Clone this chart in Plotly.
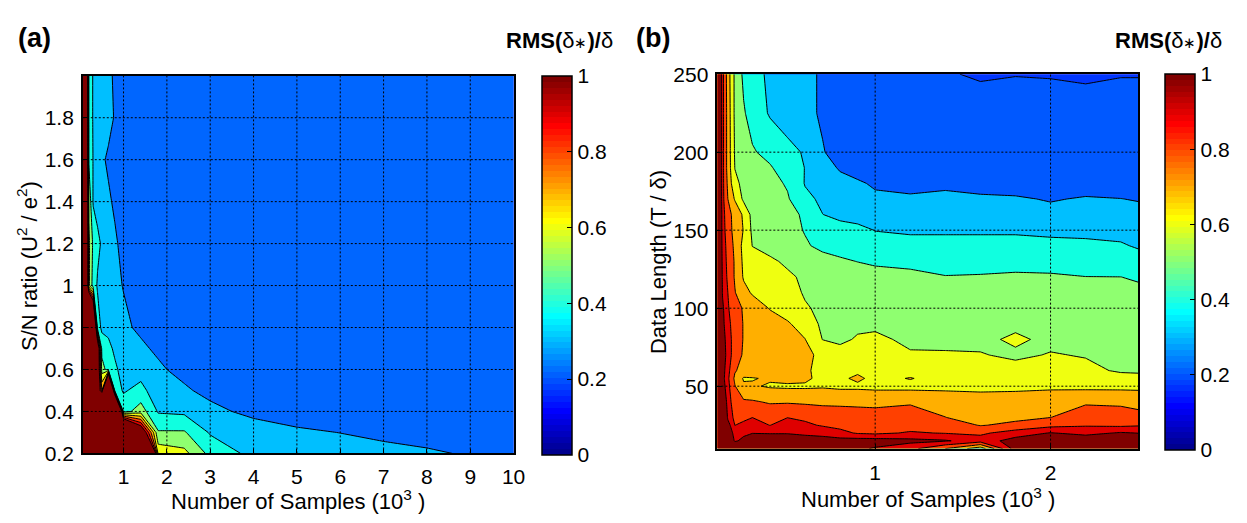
import plotly.graph_objects as go

W, H = 1247, 523
FONT = "Liberation Sans, Arial, sans-serif"

# ---------------- panel (a): RMS error over S/N ratio and sample count ----------------
samples_a = [0.06, 0.15, 0.2, 0.3, 0.4, 0.5, 0.65, 0.8, 1.0, 1.4, 1.8, 2.4, 3.0, 4.0, 5, 6, 7, 8, 9, 10]
snr_a = [0.2, 0.3, 0.4, 0.5, 0.6, 0.7, 0.8, 1.0, 1.2, 1.4, 1.6, 1.8, 2.0]
rms_a = [
    [3, 3, 3, 3, 3, 3, 3, 3, 3, 3, 0.67, 0.63, 0.47, 0.37, 0.345, 0.33, 0.32, 0.307, 0.295, 0.285],
    [3, 3, 3, 3, 3, 3, 3, 3, 2.0, 1.21, 0.51, 0.51, 0.39, 0.34, 0.31, 0.299, 0.285, 0.28, 0.27, 0.265],
    [3, 3, 3, 3, 3, 3, 3, 3, 0.46, 0.55, 0.39, 0.38, 0.32, 0.28, 0.27, 0.26, 0.25, 0.25, 0.25, 0.25],
    [3, 3, 3, 3, 1.3, 0.8, 3, 0.45, 0.39, 0.43, 0.34, 0.31, 0.28, 0.26, 0.25, 0.25, 0.25, 0.25, 0.25, 0.25],
    [3, 3, 3, 3, 1.3, 0.55, 0.45, 0.42, 0.36, 0.36, 0.31, 0.28, 0.27, 0.26, 0.25, 0.25, 0.25, 0.25, 0.25, 0.25],
    [3, 3, 3, 3, 1.3, 0.46, 0.43, 0.38, 0.33, 0.31, 0.29, 0.27, 0.26, 0.25, 0.25, 0.25, 0.25, 0.25, 0.25, 0.25],
    [3, 3, 3, 2.0, 0.45, 0.38, 0.37, 0.34, 0.31, 0.29, 0.27, 0.26, 0.25, 0.25, 0.25, 0.25, 0.25, 0.25, 0.25, 0.25],
    [3, 1.5, 0.62, 0.45, 0.39, 0.36, 0.33, 0.31, 0.298, 0.28, 0.27, 0.26, 0.25, 0.25, 0.25, 0.25, 0.25, 0.25, 0.25, 0.25],
    [3, 1.5, 0.62, 0.48, 0.42, 0.39, 0.34, 0.31, 0.28, 0.27, 0.26, 0.25, 0.25, 0.25, 0.25, 0.25, 0.25, 0.25, 0.25, 0.25],
    [3, 1.5, 0.58, 0.39, 0.37, 0.34, 0.31, 0.29, 0.27, 0.26, 0.25, 0.25, 0.25, 0.25, 0.25, 0.25, 0.25, 0.25, 0.25, 0.25],
    [3, 1.5, 0.49, 0.395, 0.34, 0.31, 0.29, 0.28, 0.27, 0.26, 0.25, 0.25, 0.25, 0.25, 0.25, 0.25, 0.25, 0.25, 0.25, 0.25],
    [3, 1.5, 0.48, 0.39, 0.36, 0.34, 0.32, 0.295, 0.27, 0.26, 0.25, 0.25, 0.25, 0.25, 0.25, 0.25, 0.25, 0.25, 0.25, 0.25],
    [3, 1.5, 0.48, 0.39, 0.36, 0.34, 0.315, 0.29, 0.27, 0.26, 0.25, 0.25, 0.25, 0.25, 0.25, 0.25, 0.25, 0.25, 0.25, 0.25],
]
xticks_a = [1, 2, 3, 4, 5, 6, 7, 8, 9, 10]
yticks_a = [0.2, 0.4, 0.6, 0.8, 1.0, 1.2, 1.4, 1.6, 1.8]
ylabels_a = ["0.2", "0.4", "0.6", "0.8", "1", "1.2", "1.4", "1.6", "1.8"]

# ---------------- panel (b): RMS error over data length and sample count ----------------
samples_b = [0.1, 0.13, 0.16, 0.2, 0.25, 0.3, 0.4, 0.5, 0.6, 0.7, 0.8, 0.9, 1.0, 1.2, 1.4, 1.6, 1.8, 2.0, 2.2, 2.4, 2.5]
length_b = [10, 15, 20, 25, 30, 40, 50, 55, 60, 70, 80, 90, 100, 110, 120, 130, 140, 150, 160, 170, 180, 190, 200, 225, 250]
rms_b = [
    [1.6, 1.5, 1.4, 1.3, 1.3, 1.3, 1.3, 1.2, 1.15, 1.1, 1.05, 1.02, 0.99, 0.93, 0.8, 0.64, 1.05, 1.15, 1.15, 1.15, 1.15],
    [1.6, 1.45, 1.3, 0.97, 1.05, 1.1, 1.1, 1.1, 1.05, 1.04, 1.04, 1.05, 1.05, 1.03, 1.01, 0.95, 1.04, 1.1, 1.08, 1.06, 1.07],
    [1.6, 1.4, 1.15, 0.93, 0.96, 0.995, 0.99, 0.99, 0.98, 0.97, 0.93, 0.89, 0.88, 0.91, 0.895, 0.88, 0.95, 1.005, 0.97, 1.01, 0.998],
    [1.6, 1.3, 1.05, 0.899, 0.92, 0.95, 0.898, 0.95, 0.92, 0.89, 0.87, 0.86, 0.86, 0.86, 0.85, 0.795, 0.82, 0.87, 0.89, 0.88, 0.89],
    [1.6, 1.25, 0.98, 0.87, 0.88, 0.899, 0.87, 0.898, 0.88, 0.86, 0.85, 0.84, 0.84, 0.84, 0.801, 0.77, 0.78, 0.799, 0.86, 0.85, 0.83],
    [1.5, 1.15, 0.95, 0.84, 0.815, 0.81, 0.79, 0.79, 0.785, 0.78, 0.78, 0.78, 0.775, 0.79, 0.77, 0.75, 0.76, 0.78, 0.785, 0.78, 0.77],
    [1.4, 1.06, 0.93, 0.805, 0.715, 0.71, 0.69, 0.685, 0.685, 0.69, 0.68, 0.68, 0.675, 0.67, 0.67, 0.67, 0.67, 0.675, 0.675, 0.675, 0.675],
    [1.4, 1.04, 0.92, 0.78, 0.69, 0.695, 0.71, 0.73, 0.72, 0.67, 0.68, 0.72, 0.67, 0.705, 0.66, 0.65, 0.645, 0.64, 0.64, 0.63, 0.63],
    [1.4, 1.05, 0.93, 0.81, 0.76, 0.75, 0.74, 0.73, 0.71, 0.68, 0.68, 0.68, 0.67, 0.66, 0.65, 0.64, 0.63, 0.63, 0.62, 0.59, 0.585],
    [1.4, 1.06, 0.96, 0.84, 0.79, 0.78, 0.78, 0.75, 0.72, 0.68, 0.64, 0.64, 0.63, 0.61, 0.61, 0.605, 0.585, 0.605, 0.595, 0.58, 0.57],
    [1.4, 1.05, 0.95, 0.85, 0.795, 0.79, 0.76, 0.73, 0.702, 0.598, 0.58, 0.61, 0.62, 0.58, 0.575, 0.58, 0.615, 0.58, 0.57, 0.565, 0.56],
    [1.4, 1.03, 0.93, 0.85, 0.795, 0.77, 0.74, 0.71, 0.66, 0.58, 0.57, 0.58, 0.58, 0.575, 0.57, 0.57, 0.58, 0.575, 0.57, 0.565, 0.56],
    [1.4, 1.02, 0.91, 0.84, 0.79, 0.75, 0.695, 0.66, 0.61, 0.58, 0.58, 0.59, 0.57, 0.565, 0.56, 0.56, 0.56, 0.56, 0.555, 0.55, 0.545],
    [1.3, 0.99, 0.9, 0.805, 0.73, 0.69, 0.67, 0.64, 0.59, 0.58, 0.57, 0.57, 0.56, 0.55, 0.54, 0.54, 0.54, 0.54, 0.53, 0.53, 0.52],
    [1.3, 0.98, 0.88, 0.79, 0.69, 0.66, 0.64, 0.62, 0.58, 0.57, 0.56, 0.55, 0.547, 0.53, 0.504, 0.51, 0.526, 0.519, 0.502, 0.5005, 0.49],
    [1.3, 0.97, 0.87, 0.79, 0.68, 0.64, 0.62, 0.58, 0.56, 0.53, 0.515, 0.498, 0.48, 0.47, 0.46, 0.45, 0.44, 0.44, 0.43, 0.43, 0.42],
    [1.3, 0.96, 0.86, 0.78, 0.67, 0.598, 0.56, 0.54, 0.51, 0.48, 0.46, 0.45, 0.43, 0.412, 0.412, 0.412, 0.412, 0.412, 0.4085, 0.405, 0.395],
    [1.3, 0.95, 0.84, 0.77, 0.695, 0.58, 0.55, 0.53, 0.495, 0.46, 0.43, 0.42, 0.398, 0.395, 0.395, 0.395, 0.395, 0.39, 0.39, 0.385, 0.375],
    [1.3, 0.95, 0.82, 0.78, 0.68, 0.57, 0.54, 0.52, 0.49, 0.401, 0.38, 0.37, 0.36, 0.35, 0.35, 0.345, 0.34, 0.32, 0.335, 0.33, 0.32],
    [1.3, 0.93, 0.8, 0.69, 0.58, 0.57, 0.54, 0.51, 0.42, 0.385, 0.36, 0.34, 0.314, 0.3095, 0.33, 0.313, 0.3075, 0.295, 0.3057, 0.301, 0.296],
    [1.3, 0.93, 0.78, 0.62, 0.58, 0.56, 0.53, 0.49, 0.395, 0.36, 0.33, 0.31, 0.29, 0.28, 0.275, 0.27, 0.27, 0.27, 0.27, 0.27, 0.27],
    [1.3, 0.93, 0.76, 0.598, 0.56, 0.54, 0.51, 0.45, 0.398, 0.34, 0.29, 0.27, 0.26, 0.25, 0.245, 0.24, 0.24, 0.24, 0.24, 0.24, 0.24],
    [1.3, 0.93, 0.76, 0.59, 0.54, 0.51, 0.47, 0.43, 0.39, 0.305, 0.27, 0.26, 0.25, 0.24, 0.235, 0.23, 0.23, 0.23, 0.23, 0.23, 0.23],
    [1.3, 0.93, 0.76, 0.58, 0.51, 0.46, 0.39, 0.35, 0.32, 0.29, 0.27, 0.26, 0.25, 0.24, 0.235, 0.23, 0.23, 0.23, 0.23, 0.23, 0.23],
    [1.3, 0.93, 0.75, 0.58, 0.48, 0.44, 0.38, 0.35, 0.32, 0.29, 0.27, 0.25, 0.24, 0.22, 0.205, 0.193, 0.198, 0.196, 0.19, 0.197, 0.197],
]
xticks_b = [1, 2]
yticks_b = [50, 100, 150, 200, 250]

# colour bar ticks
cbar_ticks = [0, 0.2, 0.4, 0.6, 0.8, 1.0]
cbar_labels = ["0", "0.2", "0.4", "0.6", "0.8", "1"]

# fill colour of each band: <0.1, [0.1,0.2), ..., [0.9,1.0), >=1.0
band_colors_a = ["#0000EF", "#0040FF", "#0066FF", "#00BFFF", "#10FFE0", "#8FFF70",
                 "#EFFF10", "#FFAF00", "#FF4000", "#DF0000", "#800000"]
band_colors_b = ["#0000EF", "#0036FF", "#0058FF", "#00BFFF", "#10FFE0", "#8FFF70",
                 "#EFFF10", "#FFAF00", "#FF4000", "#DF0000", "#800000"]


def band_scale(colors):
    n = len(colors) - 1
    scale = []
    for k, c in enumerate(colors):
        lo = max(0.0, (k - 0.5) / n)
        hi = min(1.0, (k + 0.5) / n)
        scale += [[lo, c], [hi, c]]
    return scale


def jet_rgb(t):
    clip = lambda v: max(0.0, min(1.0, v))
    r = clip(min(4 * t - 1.5, -4 * t + 4.5))
    g = clip(min(4 * t - 0.5, -4 * t + 3.5))
    b = clip(min(4 * t + 0.5, -4 * t + 2.5))
    return "rgb(%d,%d,%d)" % (round(255 * r), round(255 * g), round(255 * b))


def jet64_scale():
    n = 64
    scale = []
    for i in range(1, n + 1):
        c = jet_rgb(i / n)
        scale += [[(i - 1) / n, c], [i / n, c]]
    return scale


def px_x(p):
    return p / W


def px_y(p):
    return 1 - p / H


fig = go.Figure()

contour_common = dict(
    autocontour=False,
    contours=dict(start=0.1, end=1.0, size=0.1, coloring="fill", showlines=True),
    line=dict(color="black", width=1, smoothing=0),
    showscale=False,
    hoverinfo="skip",
)

fig.add_trace(go.Contour(x=samples_a, y=snr_a, z=rms_a, colorscale=band_scale(band_colors_a),
                         xaxis="x", yaxis="y", **contour_common))
fig.add_trace(go.Contour(x=samples_b, y=length_b, z=rms_b, colorscale=band_scale(band_colors_b),
                         xaxis="x2", yaxis="y2", **contour_common))


def cbar_trace(xaxis, yaxis, left, top, bottom):
    return go.Scatter(
        x=[None], y=[None], mode="markers", xaxis=xaxis, yaxis=yaxis,
        showlegend=False, hoverinfo="skip",
        marker=dict(
            color=[0], cmin=0, cmax=1, colorscale=jet64_scale(), showscale=True,
            colorbar=dict(
                x=px_x(left), xanchor="left", y=px_y((top + bottom) / 2), yanchor="middle",
                len=(bottom - top) / H, lenmode="fraction",
                thickness=30, thicknessmode="pixels", xpad=0, ypad=0,
                outlinewidth=1.5, outlinecolor="black",
                tickvals=cbar_ticks, ticktext=cbar_labels,
                ticks="inside", ticklen=5, tickcolor="black", tickwidth=1,
                tickfont=dict(family=FONT, size=21, color="black"),
            ),
        ),
    )


fig.add_trace(cbar_trace("x", "y", 547, 67, 463))
fig.add_trace(cbar_trace("x2", "y2", 1176, 65, 458))

axis_style = dict(
    showgrid=False, zeroline=False, showline=True, mirror=True,
    linecolor="black", linewidth=1.5, ticks="inside", ticklen=5, tickwidth=1,
    tickcolor="black", tickfont=dict(family=FONT, size=21, color="black"),
)

fig.update_layout(
    width=W, height=H, margin=dict(l=0, r=0, t=0, b=0), autosize=False,
    paper_bgcolor="white", plot_bgcolor="white", showlegend=False,
    xaxis=dict(domain=[px_x(83.6), px_x(518.6)], range=[samples_a[0], samples_a[-1]], anchor="y",
               tickvals=xticks_a, ticktext=[str(v) for v in xticks_a], ticklabelstandoff=4, **axis_style),
    yaxis=dict(domain=[px_y(461.7), px_y(66.7)], range=[snr_a[0], snr_a[-1]], anchor="x",
               tickvals=yticks_a, ticktext=ylabels_a, ticklabelstandoff=3, **axis_style),
    xaxis2=dict(domain=[px_x(724.3), px_x(1149.3)], range=[samples_b[0], samples_b[-1]], anchor="y2",
                tickvals=xticks_b, ticktext=[str(v) for v in xticks_b], ticklabelstandoff=4, **axis_style),
    yaxis2=dict(domain=[px_y(456.7), px_y(65)], range=[length_b[0], length_b[-1]], anchor="x2",
                tickvals=yticks_b, ticktext=[str(v) for v in yticks_b], ticklabelstandoff=3, **axis_style),
)

# dotted grid drawn on top of the filled contours
grid_line = dict(color="black", width=1, dash="2px,2px")
shapes = []
for v in xticks_a:
    if samples_a[0] < v < samples_a[-1]:
        shapes.append(dict(type="line", xref="x", yref="y domain", x0=v, x1=v, y0=0, y1=1,
                           line=grid_line, layer="above"))
for v in yticks_a:
    if snr_a[0] < v < snr_a[-1]:
        shapes.append(dict(type="line", xref="x domain", yref="y", x0=0, x1=1, y0=v, y1=v,
                           line=grid_line, layer="above"))
for v in xticks_b:
    if samples_b[0] < v < samples_b[-1]:
        shapes.append(dict(type="line", xref="x2", yref="y2 domain", x0=v, x1=v, y0=0, y1=1,
                           line=grid_line, layer="above"))
for v in yticks_b:
    if length_b[0] < v < length_b[-1]:
        shapes.append(dict(type="line", xref="x2 domain", yref="y2", x0=0, x1=1, y0=v, y1=v,
                           line=grid_line, layer="above"))
fig.update_layout(shapes=shapes)


def label(text, x, y, size, angle=0):
    return dict(text=text, x=px_x(x), y=px_y(y), xref="paper", yref="paper",
                xanchor="center", yanchor="middle", showarrow=False, textangle=angle,
                font=dict(family=FONT, size=size, color="black"))


cbar_title = "<b>RMS(</b>δ<span style='font-size:15px'>∗</span><b>)/</b>δ"
fig.update_layout(annotations=[
    label("<b>(a)</b>", 35, 27, 27),
    label("<b>(b)</b>", 659, 27, 27),
    label(cbar_title, 565, 30, 22),
    label(cbar_title, 1180, 30, 22),
    label("Number of Samples (10<sup>3</sup> )", 301, 510, 22),
    label("Number of Samples (10<sup>3</sup> )", 937, 508, 22),
    label("S/N ratio (U<sup>2</sup> / e<sup>2</sup>)", 28, 266, 22, -90),
    label("Data Length (T / δ)", 665, 262, 22, -90),
])

# page without body margin so the figure sits at the window origin
fig.write_html(
    "out.html",
    config={"displayModeBar": False},
    post_script="document.body.style.margin='0px';document.body.style.overflow='hidden';",
)
